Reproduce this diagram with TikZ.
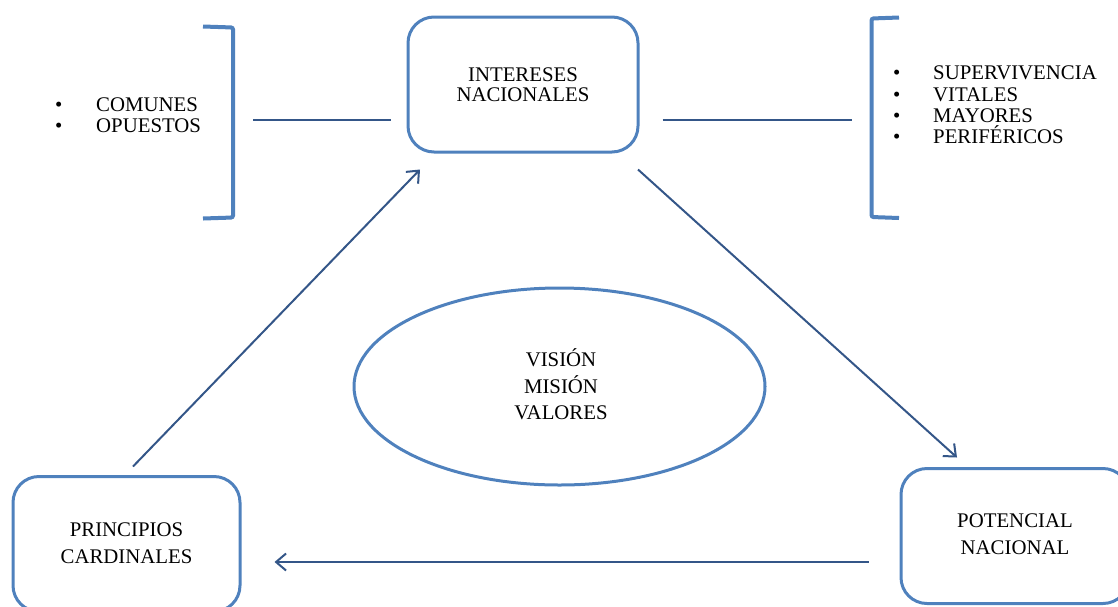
\documentclass[tikz,border=0pt]{standalone}
\usepackage{fontspec}
\setmainfont{Liberation Serif}
\usetikzlibrary{arrows.meta,shapes.geometric}
\definecolor{boxblue}{RGB}{79,129,189}
\definecolor{arrowblue}{RGB}{52,86,136}

\begin{document}
\begin{tikzpicture}[x=1pt,y=-1pt,
  lbl/.style={font=\fontsize{20.8}{20}\selectfont, align=center, inner sep=0pt},
  listtxt/.style={font=\fontsize{20.8}{21.3}\selectfont, align=left, inner sep=0pt, anchor=west},
  rbox/.style={draw=boxblue, line width=3pt, rounded corners=26pt,
               minimum height=135pt, inner sep=0pt},
  oval/.style={draw=boxblue, line width=3pt, ellipse, minimum width=411pt,
               minimum height=197pt, inner sep=0pt},
  brk/.style={draw=boxblue, line width=4pt, rounded corners=2pt},
  link/.style={draw=arrowblue, line width=2pt},
  arr/.style={draw=arrowblue, line width=2pt,
              -{Straight Barb[length=10pt,width=17pt,line width=2pt]}}]

  \useasboundingbox (0,0) rectangle (1118,606);
  \clip (0,0) rectangle (1118,606);

  % main boxes
  \node[rbox, minimum width=230pt] (in) at (523,84.5) {};
  \node[lbl] at (in.center) {INTERESES\\NACIONALES};

  \node[rbox, minimum width=227pt] (pc) at (126.5,544) {};
  \node[lbl, font=\fontsize{20.8}{27}\selectfont] at (126.5,543.5) {PRINCIPIOS\\CARDINALES};

  \node[rbox, minimum width=228pt] (pn) at (1015,536) {};
  \node[lbl, font=\fontsize{20.8}{27}\selectfont] at (1015,534.5) {POTENCIAL\\NACIONAL};

  % central ellipse
  \node[oval] (vm) at (559.5,386.5) {};
  \node[lbl, font=\fontsize{20.8}{26.5}\selectfont] at (561,384.5) {VISIÓN\\MISIÓN\\VALORES};

  % left bracket and list
  \draw[brk] (203,26.5) -- (233,27.5) -- (233,217.5) -- (203,218.5);
  \coordinate (lb) at (233,120);
  \node[listtxt] (ll) at (55,115.5)
    {\makebox[41pt][l]{\textbullet}COMUNES\\\makebox[41pt][l]{\textbullet}OPUESTOS};

  % right bracket and list
  \draw[brk] (899,17.5) -- (871.5,18.5) -- (871.5,217) -- (899,218);
  \coordinate (rb) at (871.5,120);
  \node[listtxt] (rl) at (893,105)
    {\makebox[40pt][l]{\textbullet}SUPERVIVENCIA\\\makebox[40pt][l]{\textbullet}VITALES\\
     \makebox[40pt][l]{\textbullet}MAYORES\\\makebox[40pt][l]{\textbullet}PERIFÉRICOS};

  % links from the brackets to the top box
  \draw[link] ([xshift=20pt]lb) -- ([xshift=-16pt,yshift=-35.5pt]in.west);
  \draw[link] ([xshift=23pt,yshift=-35.5pt]in.east) -- ([xshift=-20pt]rb);

  % cycle of arrows
  \draw[arr] ([xshift=6.5pt,yshift=8.5pt]pc.north) -- ([xshift=-103pt,yshift=-16pt]in.south);
  \draw[arr] ([xshift=115pt,yshift=-16pt]in.south) -- ([xshift=-58pt,yshift=9.5pt]pn.north);
  \draw[arr] ([xshift=-31pt,yshift=-26pt]pn.west) -- ([xshift=33pt,yshift=-18pt]pc.east);
\end{tikzpicture}
\end{document}
